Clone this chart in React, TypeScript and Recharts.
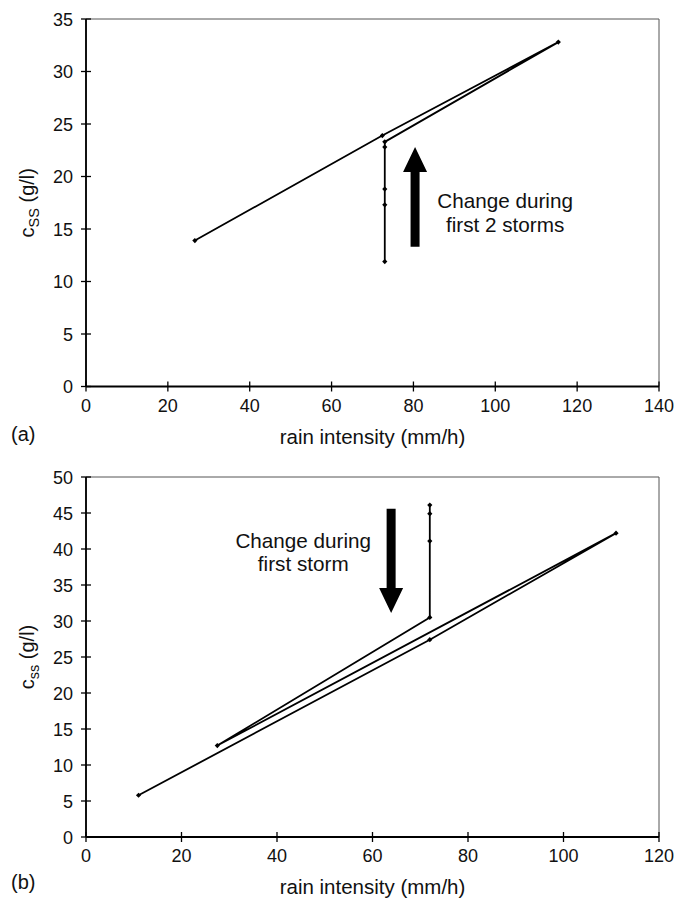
import { ScatterChart, Scatter, XAxis, YAxis, ReferenceArea, ReferenceLine, ReferenceDot } from 'recharts';

// panel (a)
const aRain = [73.0, 73.0, 73.0, 73.0, 73.0, 115.4, 72.4, 26.6];
const aCss = [11.9, 17.3, 18.8, 22.8, 23.3, 32.8, 23.9, 13.9];
const aXTicks = [0, 20, 40, 60, 80, 100, 120, 140];
const aYTicks = [0, 5, 10, 15, 20, 25, 30, 35];

// panel (b)
const bRain = [72.0, 72.0, 72.0, 72.0, 27.5, 111.0, 72.0, 11.0];
const bCss = [46.1, 44.9, 41.1, 30.5, 12.7, 42.2, 27.4, 5.8];
const bXTicks = [0, 20, 40, 60, 80, 100, 120];
const bYTicks = [0, 5, 10, 15, 20, 25, 30, 35, 40, 45, 50];

const FONT = '"Liberation Sans", Arial, Helvetica, sans-serif';
const W = 677;

const Diamond = (props: any) => {
  const { cx, cy } = props;
  const s = 2.6;
  return <polygon points={`${cx},${cy - s} ${cx + s},${cy} ${cx},${cy + s} ${cx - s},${cy}`} fill="#000" />;
};

const XTick = (props: any) => {
  const { x, y, payload } = props;
  return (
    <g>
      <line x1={x} x2={x} y1={y - 5} y2={y + 5} stroke="#000" strokeWidth={1.3} />
      <text x={x} y={y + 25} textAnchor="middle" fontSize={18} fontFamily={FONT} fill="#111">
        {payload.value}
      </text>
    </g>
  );
};

const YTick = (props: any) => {
  const { x, y, payload } = props;
  return (
    <g>
      <line x1={x - 5} x2={x + 5} y1={y} y2={y} stroke="#000" strokeWidth={1.3} />
      <text x={x - 13} y={y + 6.5} textAnchor="end" fontSize={18} fontFamily={FONT} fill="#111">
        {payload.value}
      </text>
    </g>
  );
};

const Arrow = (props: any) => {
  const { x1, y1, x2, y2 } = props;
  const dx = x2 - x1;
  const dy = y2 - y1;
  const len = Math.sqrt(dx * dx + dy * dy) || 1;
  const ux = dx / len;
  const uy = dy / len;
  const px = -uy;
  const py = ux;
  const head = 25;
  const hw = 12;
  const sw = 4.5;
  const bx = x2 - ux * head;
  const by = y2 - uy * head;
  const pts = [
    [x1 + px * sw, y1 + py * sw],
    [bx + px * sw, by + py * sw],
    [bx + px * hw, by + py * hw],
    [x2, y2],
    [bx - px * hw, by - py * hw],
    [bx - px * sw, by - py * sw],
    [x1 - px * sw, y1 - py * sw],
  ]
    .map((p) => p.join(','))
    .join(' ');
  return <polygon points={pts} fill="#000" />;
};

const noteShape = (lines: string[]) => (props: any) => {
  const { cx, cy } = props;
  return (
    <text x={cx} y={cy} textAnchor="middle" fontSize={20.7} fontFamily={FONT} fill="#111">
      <tspan x={cx} dy={-5}>{lines[0]}</tspan>
      <tspan x={cx} dy={23.5}>{lines[1]}</tspan>
    </text>
  );
};

const xTitle = (props: any) => {
  const { viewBox } = props;
  return (
    <text x={viewBox.x + viewBox.width / 2} y={viewBox.y + 57} textAnchor="middle" fontSize={20.5} fontFamily={FONT} fill="#111">
      rain intensity (mm/h)
    </text>
  );
};

const yTitle = (sub: string) => (props: any) => {
  const { viewBox } = props;
  const cx = 34;
  const cy = viewBox.y + viewBox.height / 2;
  return (
    <text x={cx} y={cy} transform={`rotate(-90 ${cx} ${cy})`} textAnchor="middle" fontSize={20} fontFamily={FONT} fill="#111">
      <tspan>c</tspan>
      <tspan dy={5} fontSize={14.5}>{sub}</tspan>
      <tspan dy={-5}> (g/l)</tspan>
    </text>
  );
};

interface PanelProps {
  rain: number[];
  css: number[];
  xTicks: number[];
  yTicks: number[];
  sub: string;
  height: number;
  bottom: number;
  arrow: { x: number; from: number; to: number };
  note: { x: number; y: number; lines: string[] };
}

function Panel({ rain, css, xTicks, yTicks, sub, height, bottom, arrow, note }: PanelProps) {
  const data = rain.map((x, i) => ({ x, y: css[i] }));
  const xMax = xTicks[xTicks.length - 1];
  const yMax = yTicks[yTicks.length - 1];
  return (
    <ScatterChart width={W} height={height} margin={{ top: 19, right: 18, left: 0, bottom }}>
      <ReferenceArea x1={0} x2={xMax} y1={0} y2={yMax} fill="none" stroke="#555" strokeWidth={1} />
      <XAxis
        type="number"
        dataKey="x"
        domain={[0, xMax]}
        ticks={xTicks}
        interval={0}
        height={56}
        tickSize={0}
        tickMargin={0}
        tickLine={false}
        tick={XTick}
        axisLine={{ stroke: '#000', strokeWidth: 1.8 }}
        label={{ content: xTitle }}
      />
      <YAxis
        type="number"
        dataKey="y"
        domain={[0, yMax]}
        ticks={yTicks}
        interval={0}
        width={86}
        tickSize={0}
        tickMargin={0}
        tickLine={false}
        tick={YTick}
        axisLine={{ stroke: '#000', strokeWidth: 1.8 }}
        label={{ content: yTitle(sub) }}
      />
      <ReferenceLine
        segment={[
          { x: arrow.x, y: arrow.from },
          { x: arrow.x, y: arrow.to },
        ]}
        shape={Arrow}
      />
      <ReferenceDot x={note.x} y={note.y} r={0} shape={noteShape(note.lines)} />
      <Scatter
        data={data}
        line={{ stroke: '#000', strokeWidth: 1.8 }}
        shape={Diamond}
        isAnimationActive={false}
      />
    </ScatterChart>
  );
}

export default function App() {
  return (
    <div style={{ position: 'relative', width: W, height: 899, background: '#fff', fontFamily: FONT }}>
      <style>{'body{margin:0}'}</style>
      <div style={{ position: 'absolute', left: 0, top: 0 }}>
        <Panel
          rain={aRain}
          css={aCss}
          xTicks={aXTicks}
          yTicks={aYTicks}
          sub="SS"
          height={452}
          bottom={9.5}
          arrow={{ x: 80.4, from: 13.3, to: 22.8 }}
          note={{ x: 102.4, y: 16.5, lines: ['Change during', 'first 2 storms'] }}
        />
      </div>
      <div style={{ position: 'absolute', left: 0, top: 458 }}>
        <Panel
          rain={bRain}
          css={bCss}
          xTicks={bXTicks}
          yTicks={bYTicks}
          sub="ss"
          height={441}
          bottom={6}
          arrow={{ x: 63.9, from: 45.6, to: 31.1 }}
          note={{ x: 45.5, y: 39.5, lines: ['Change during', 'first storm'] }}
        />
      </div>
      <div style={{ position: 'absolute', left: 11, top: 423, fontSize: 20, color: '#111' }}>(a)</div>
      <div style={{ position: 'absolute', left: 11, top: 871, fontSize: 20, color: '#111' }}>(b)</div>
    </div>
  );
}
